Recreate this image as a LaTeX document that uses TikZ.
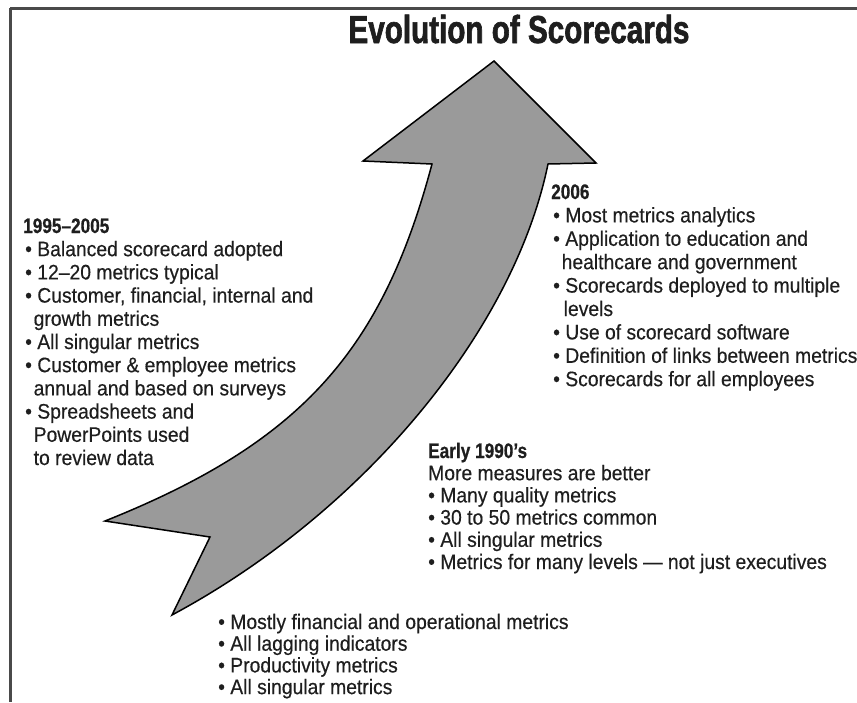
\documentclass[tikz,border=0pt]{standalone}
\usepackage{fontspec}
\setmainfont{Liberation Sans}
\newfontfamily\bodyfont[FakeStretch=0.92,FakeBold=0.4]{Liberation Sans}
\newfontfamily\headfont[FakeStretch=0.82,FakeBold=0.6]{Liberation Sans}
\newfontfamily\titlefont[FakeStretch=0.76,FakeBold=1.6]{Liberation Sans}
\definecolor{ink}{HTML}{1E1E1E}
\definecolor{arrowgray}{HTML}{9A9A9A}
\definecolor{framegray}{HTML}{4A4A4A}
\newcommand\mybul{\textbullet\ }
\newcommand\mycont{\hspace*{8.5pt}}
\begin{document}
\begin{tikzpicture}[x=1pt,y=-1pt,
  txt/.style={anchor=base west,inner sep=0pt,text=ink,font=\bodyfont\fontsize{21}{22}\selectfont},
  hd/.style={anchor=base west,inner sep=0pt,text=ink,font=\headfont\bfseries\fontsize{21}{22}\selectfont},
  ttl/.style={anchor=base,inner sep=0pt,text=ink,font=\titlefont\bfseries\fontsize{39}{40}\selectfont},
  frame/.style={line width=3pt,draw=framegray},
  bigarrow/.style={fill=arrowgray,draw=black,line width=1.5pt,line join=miter}]
\useasboundingbox (0,0) rectangle (857,702);
% frame
\draw[frame] (10,8) -- (857,8);
\draw[frame] (10,8) -- (10,702);
% title
\node[ttl] (title) at (519,43) {Evolution of Scorecards};
% arrow
\coordinate (tip) at (494,61);
\coordinate (rbo) at (596,163);
\coordinate (rbi) at (548,164);
\coordinate (tailb) at (172,615);
\coordinate (notch) at (210,537);
\coordinate (taill) at (105,521);
\coordinate (lbi) at (432,164);
\coordinate (lbo) at (363,161);
\draw[bigarrow] (tip) -- (rbo) -- (rbi)
  .. controls (514,330) and (364,512) .. (tailb)
  -- (notch) -- (taill)
  .. controls (300,443) and (382,352) .. (lbi)
  -- (lbo) -- cycle;
% 1995-2005 block
\node[hd] (Lh) at (23,233) {1995–2005};
\foreach \t [count=\i from 1] in {{\mybul Balanced scorecard adopted},
  {\mybul 12–20 metrics typical},
  {\mybul Customer, financial, internal and},
  {\mycont growth metrics},
  {\mybul All singular metrics},
  {\mybul Customer \& employee metrics},
  {\mycont annual and based on surveys},
  {\mybul Spreadsheets and},
  {\mycont PowerPoints used},
  {\mycont to review data}}
  \node[txt] (L\i) at (25,{233+23.2*\i}) {\t};
% 2006 block
\node[hd] (Rh) at (551,199) {2006};
\foreach \t [count=\i from 1] in {{\mybul Most metrics analytics},
  {\mybul Application to education and},
  {\mycont healthcare and government},
  {\mybul Scorecards deployed to multiple},
  {\mycont\hspace*{2pt}levels},
  {\mybul Use of scorecard software},
  {\mybul Definition of links between metrics},
  {\mybul Scorecards for all employees}}
  \node[txt] (R\i) at (553,{199+23.4*\i}) {\t};
% Early 1990's block
\node[hd] (Eh) at (428,458) {Early 1990’s};
\foreach \t [count=\i from 1] in {{More measures are better},
  {\mybul Many quality metrics},
  {\mybul 30 to 50 metrics common},
  {\mybul All singular metrics},
  {\mybul Metrics for many levels — not just executives}}
  \node[txt] (E\i) at (428,{458+22.2*\i}) {\t};
% bottom block
\foreach \t [count=\i from 0] in {{\mybul Mostly financial and operational metrics},
  {\mybul All lagging indicators},
  {\mybul Productivity metrics},
  {\mybul All singular metrics}}
  \node[txt] (B\i) at (218,{629+21.7*\i}) {\t};
\end{tikzpicture}
\end{document}
